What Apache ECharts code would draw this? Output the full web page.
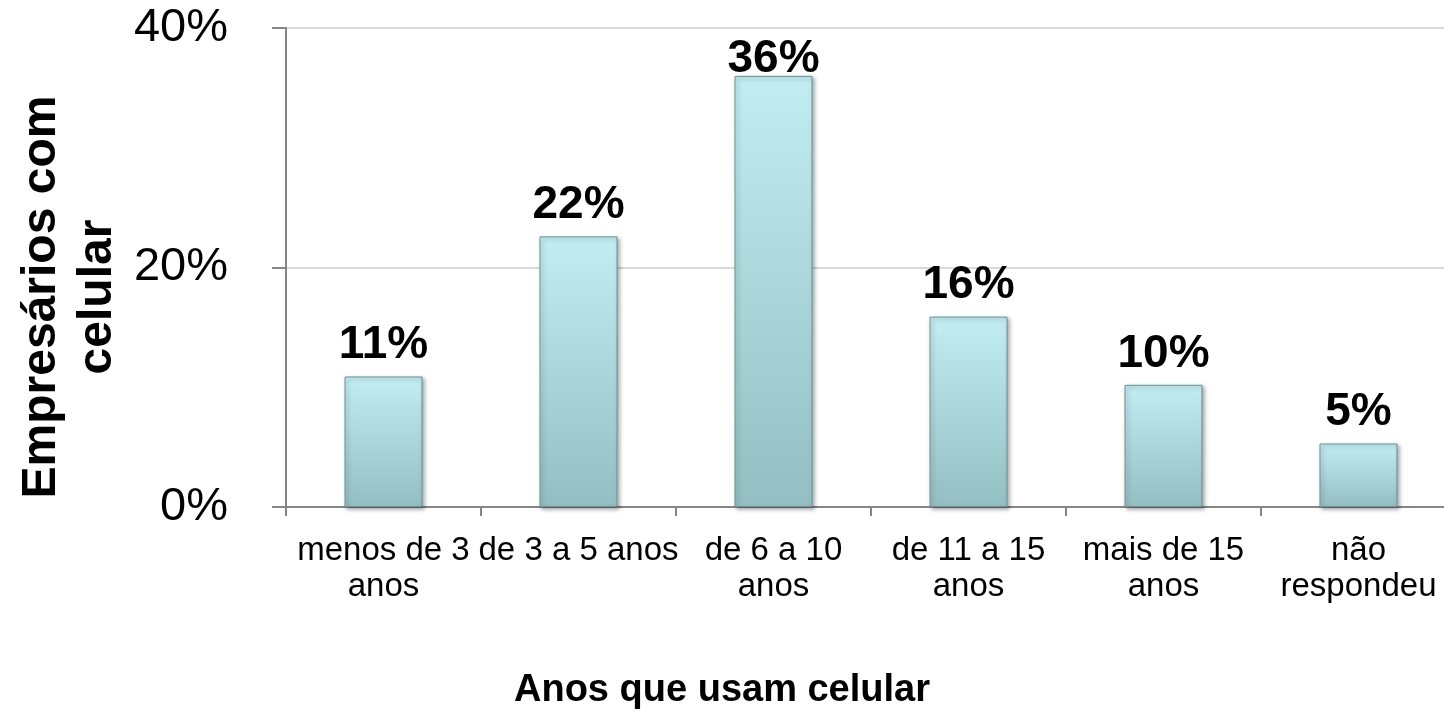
<!DOCTYPE html>
<html>
<head>
<meta charset="utf-8">
<script src="https://cdn.jsdelivr.net/npm/echarts@6/dist/echarts.min.js"></script>
<style>
html,body{margin:0;padding:0;background:#fff;}
#chart{width:1444px;height:728px;}
</style>
</head>
<body>
<div id="chart"></div>
<script>
const categories = ['menos de 3\nanos', 'de 3 a 5 anos', 'de 6 a 10\nanos', 'de 11 a 15\nanos', 'mais de 15\nanos', 'não\nrespondeu'];
const values = [10.9, 22.6, 36.0, 15.9, 10.2, 5.3];
const valueLabels = ['11%', '22%', '36%', '16%', '10%', '5%'];
const yTicks = [0, 20, 40];
const yTitle = 'Empresários com\ncelular';
const xTitle = 'Anos que usam celular';

const FONT = '"Liberation Sans", Arial, sans-serif';
const chart = echarts.init(document.getElementById('chart'), null, {renderer: 'canvas'});

// the top label is held inside the plot area, as in the reference
const seriesData = values.map((v, i) => ({
  value: v,
  label: i === 2 ? {distance: -6} : undefined
}));

chart.setOption({
  backgroundColor: '#ffffff',
  animation: false,
  grid: {left: 286, top: 28, width: 1170, height: 479, containLabel: false, outerBoundsMode: 'none'},
  xAxis: {
    type: 'category',
    data: categories,
    axisLine: {lineStyle: {color: '#868686', width: 2}},
    axisTick: {show: true, length: 9, lineStyle: {color: '#868686', width: 2}},
    axisLabel: {color: '#000', fontFamily: FONT, fontSize: 33, lineHeight: 36, margin: 26, interval: 0}
  },
  yAxis: {
    type: 'value',
    min: yTicks[0],
    max: yTicks[yTicks.length - 1],
    interval: 20,
    axisLine: {show: true, lineStyle: {color: '#868686', width: 2}},
    axisTick: {show: true, length: 14, lineStyle: {color: '#868686', width: 2}},
    splitLine: {show: true, lineStyle: {color: '#d9d9d9', width: 2}},
    axisLabel: {color: '#000', fontFamily: FONT, fontSize: 47, margin: 58, formatter: v => v + '%'}
  },
  series: [{
    type: 'bar',
    data: seriesData,
    barWidth: 78,
    itemStyle: {
      color: new echarts.graphic.LinearGradient(0, 0, 0, 1, [
        {offset: 0, color: '#c2eef3'},
        {offset: 1, color: '#93bfc3'}
      ]),
      borderColor: '#6a9498',
      borderWidth: 1,
      shadowColor: 'rgba(0,0,0,0.35)',
      shadowBlur: 4,
      shadowOffsetX: 2,
      shadowOffsetY: 2
    },
    label: {
      show: true,
      position: 'top',
      distance: 8,
      color: '#000',
      fontFamily: FONT,
      fontWeight: 'bold',
      fontSize: 46,
      formatter: p => valueLabels[p.dataIndex]
    }
  }],
  graphic: [
    {
      type: 'text',
      x: 70, y: 297,
      rotation: Math.PI / 2,
      style: {
        text: yTitle,
        fontFamily: FONT, fontWeight: 'bold', fontSize: 48, lineHeight: 56,
        fill: '#000', align: 'center', verticalAlign: 'middle'
      }
    },
    {
      type: 'text',
      x: 722, y: 691,
      style: {
        text: xTitle,
        fontFamily: FONT, fontWeight: 'bold', fontSize: 38,
        fill: '#000', align: 'center', verticalAlign: 'middle'
      }
    }
  ]
});
</script>
</body>
</html>
